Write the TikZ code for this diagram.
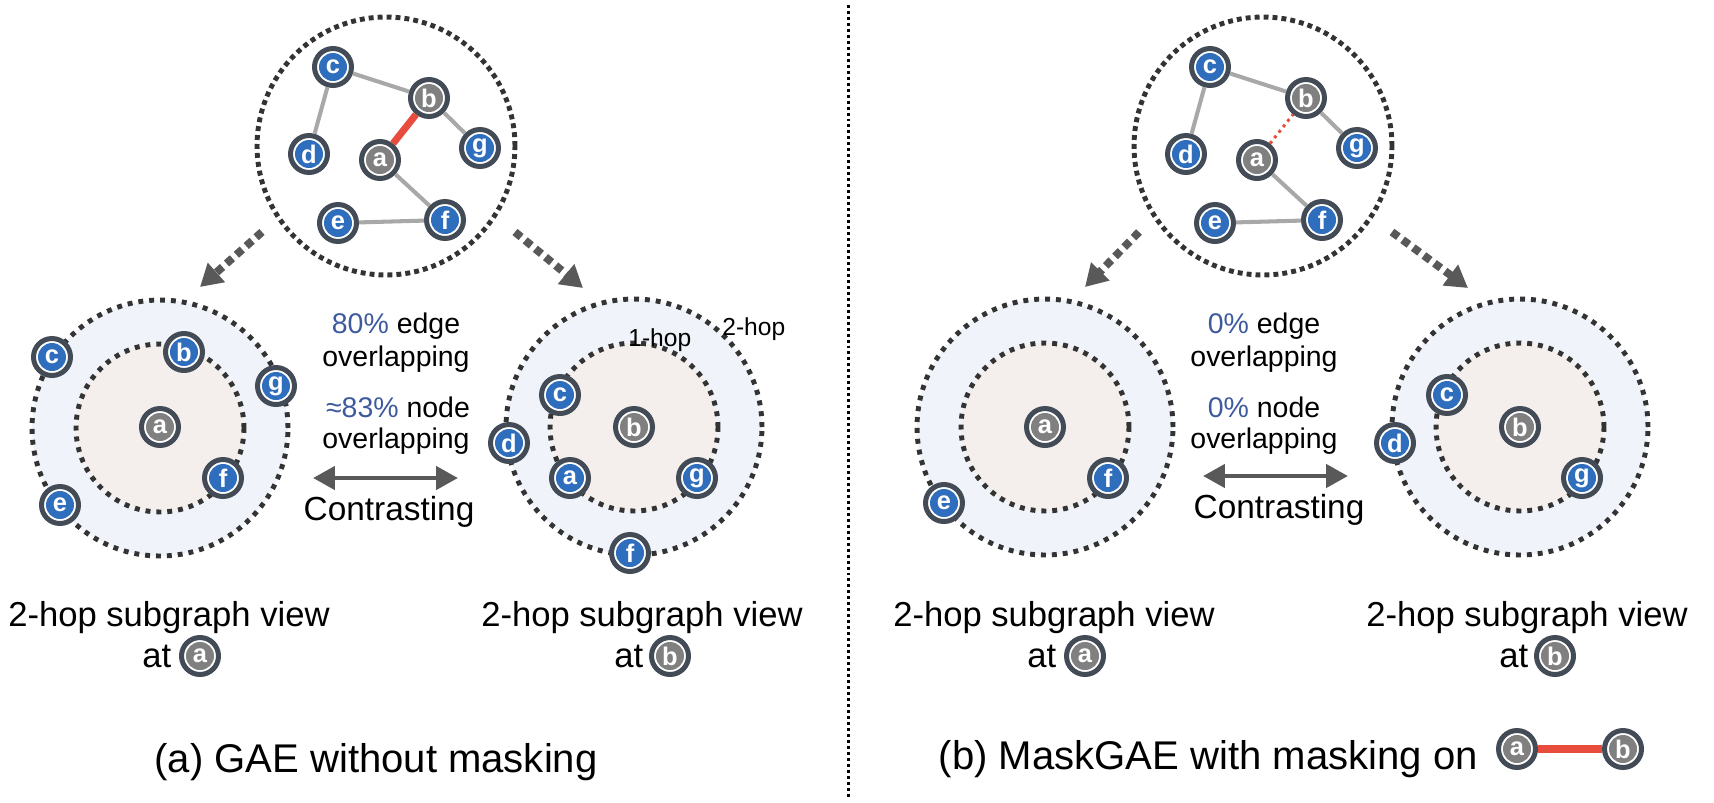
\documentclass[tikz,border=0pt]{standalone}
\definecolor{nodeblue}{RGB}{47,110,189}
\definecolor{nodegray}{RGB}{128,128,128}
\definecolor{ringgray}{RGB}{67,76,86}
\definecolor{edgegray}{RGB}{168,168,168}
\definecolor{maskred}{RGB}{232,76,61}
\definecolor{hopblue}{RGB}{240,244,250}
\definecolor{hopbeige}{RGB}{244,239,236}
\definecolor{dashgray}{RGB}{51,51,51}
\definecolor{arrowgray}{RGB}{89,89,89}
\definecolor{pctblue}{RGB}{61,90,158}
\usepackage{fontspec}
\setmainfont{Liberation Sans}
\usepackage{tikz}
\usetikzlibrary{arrows.meta,positioning}

\begin{document}
\begin{tikzpicture}[x=0.02cm,y=-0.02cm,
    every node/.style={inner sep=0pt},
    gnode/.style={circle,minimum size=0.74cm,outer sep=0.05cm,draw=ringgray,line width=0.1cm,fill=white,
        text=white,font=\fontsize{14.5}{16}\selectfont\bfseries,
        path picture={\fill[#1] (path picture bounding box.center) circle (0.28cm);}},
    bnode/.style={gnode=nodeblue},
    anode/.style={gnode=nodegray},
    topring/.style={circle,minimum size=5.16cm,draw=dashgray,line width=2.8pt,dash pattern=on 2.8pt off 2.3pt},
    hoptwo/.style={circle,minimum size=5.12cm,draw=dashgray,fill=hopblue,line width=2.8pt,dash pattern=on 2.8pt off 3.4pt},
    hopone/.style={circle,minimum size=3.36cm,draw=dashgray,fill=hopbeige,line width=2.8pt,dash pattern=on 2.8pt off 3.4pt},
    edge/.style={draw=edgegray,line width=2.3pt},
    maskedge/.style={draw=maskred,line width=4pt},
    droppededge/.style={draw=maskred,line width=1.7pt,dash pattern=on 1.7pt off 2.3pt},
    viewarrow/.style={draw=arrowgray,line width=4.5pt,dash pattern=on 4.5pt off 3pt,-{Triangle[width=14pt,length=12.5pt]}},
    contrast/.style={draw=arrowgray,line width=2.8pt,{Triangle[width=13pt,length=12.5pt]}-{Triangle[width=13pt,length=12.5pt]}},
    pcttext/.style={font=\fontsize{16.2}{19}\selectfont},
    hoptext/.style={font=\fontsize{14}{16}\selectfont},
    contrasttext/.style={font=\fontsize{19}{22}\selectfont},
    viewtext/.style={font=\fontsize{19.7}{23}\selectfont},
    captext/.style={font=\fontsize{22.8}{27}\selectfont}]
\useasboundingbox (0,0) rectangle (1714,802);

% ---------- (a) GAE without masking ----------
% input graph
\node[topring] (topA) at (386,146) {};
\node[bnode] (Ac) at (333,67) {c};
\node[anode] (Ab) at (429,98) {b};
\node[bnode] (Ad) at (309,154) {d};
\node[anode] (Aa) at (380,160) {a};
\node[bnode] (Ag) at (480,148) {g};
\node[bnode] (Ae) at (338,223) {e};
\node[bnode] (Af) at (445,220) {f};
\draw[edge] (Ac) -- (Ab);
\draw[edge] (Ac) -- (Ad);
\draw[edge] (Ab) -- (Ag);
\draw[edge] (Aa) -- (Af);
\draw[edge] (Ae) -- (Af);
\draw[maskedge] (Aa) -- (Ab);

% subgraph view at a
\node[hoptwo] (outA) at (160,428) {};
\node[hopone] (inA) at (160,428) {};
\node[anode] (vAa) at (160,427) {a};
\node[bnode] (vAc) at (52,357) {c};
\node[bnode] (vAb) at (184,352) {b};
\node[bnode] (vAg) at (276,386) {g};
\node[bnode] (vAf) at (223,478) {f};
\node[bnode] (vAe) at (60,505) {e};

% subgraph view at b
\node[hoptwo] (outB) at (634,427) {};
\node[hopone] (inB) at (634,427) {};
\node[anode] (vBb) at (634,427) {b};
\node[bnode] (vBc) at (560,395) {c};
\node[bnode] (vBd) at (509,443) {d};
\node[bnode] (vBa) at (570,478) {a};
\node[bnode] (vBg) at (697,478) {g};
\node[bnode] (vBf) at (630,553) {f};
\node[hoptext,anchor=base west] (oneB) at (628,346) {1-hop};
\node[hoptext,anchor=base west] (twoB) at (722,335) {2-hop};

% arrows to the views
\coordinate (fromAl) at (262,232);
\coordinate (toAl) at (200,287);
\coordinate (fromAr) at (515,232);
\coordinate (toAr) at (583,288);
\draw[viewarrow] (fromAl) -- (toAl);
\draw[viewarrow] (fromAr) -- (toAr);

% overlap
\node[pcttext,anchor=base] (edgeA) at (396,333) {\textcolor{pctblue}{80\%} edge};
\node[pcttext,anchor=base] (edgeAo) at (396,366) {overlapping};
\node[pcttext,anchor=base] (nodeA) at (398,417) {\textcolor{pctblue}{≈83\%} node};
\node[pcttext,anchor=base] (nodeAo) at (396,448) {overlapping};
\coordinate (conAl) at (313,478);
\coordinate (conAr) at (458,478);
\draw[contrast] (conAl) -- (conAr);
\node[contrasttext,anchor=base] (conA) at (389,520) {Contrasting};

% labels
\node[viewtext,anchor=base] (labA) at (169,626) {2-hop subgraph view};
\node[viewtext,anchor=base west] (atA) at (142,667) {at};
\node[anode] (atAa) at (200,656) {a};
\node[viewtext,anchor=base] (labB) at (642,626) {2-hop subgraph view};
\node[viewtext,anchor=base west] (atB) at (614,667) {at};
\node[anode] (atBb) at (670,656) {b};
\node[captext,anchor=base] (capA) at (376,772) {(a) GAE without masking};

% divider
\draw[line width=1.7pt,dash pattern=on 1.7pt off 1.7pt] (848,5) -- (848,797);

% ---------- (b) MaskGAE with masking ----------
% input graph
\node[topring] (topM) at (1263,146) {};
\node[bnode] (Mc) at (1210,67) {c};
\node[anode] (Mb) at (1306,98) {b};
\node[bnode] (Md) at (1186,154) {d};
\node[anode] (Ma) at (1257,160) {a};
\node[bnode] (Mg) at (1357,148) {g};
\node[bnode] (Me) at (1215,223) {e};
\node[bnode] (Mf) at (1322,220) {f};
\draw[edge] (Mc) -- (Mb);
\draw[edge] (Mc) -- (Md);
\draw[edge] (Mb) -- (Mg);
\draw[edge] (Ma) -- (Mf);
\draw[edge] (Me) -- (Mf);
\draw[droppededge] (Ma) -- (Mb);

% subgraph view at a
\node[hoptwo] (outC) at (1045,427) {};
\node[hopone] (inC) at (1045,427) {};
\node[anode] (vCa) at (1045,427) {a};
\node[bnode] (vCf) at (1108,478) {f};
\node[bnode] (vCe) at (944,503) {e};

% subgraph view at b
\node[hoptwo] (outD) at (1520,427) {};
\node[hopone] (inD) at (1520,427) {};
\node[anode] (vDb) at (1520,427) {b};
\node[bnode] (vDc) at (1447,395) {c};
\node[bnode] (vDd) at (1395,443) {d};
\node[bnode] (vDg) at (1582,478) {g};

% arrows to the views
\coordinate (fromMl) at (1139,232);
\coordinate (toMl) at (1085,287);
\coordinate (fromMr) at (1392,232);
\coordinate (toMr) at (1468,288);
\draw[viewarrow] (fromMl) -- (toMl);
\draw[viewarrow] (fromMr) -- (toMr);

% overlap
\node[pcttext,anchor=base] (edgeM) at (1264,333) {\textcolor{pctblue}{0\%} edge};
\node[pcttext,anchor=base] (edgeMo) at (1264,366) {overlapping};
\node[pcttext,anchor=base] (nodeM) at (1264,417) {\textcolor{pctblue}{0\%} node};
\node[pcttext,anchor=base] (nodeMo) at (1264,448) {overlapping};
\coordinate (conMl) at (1203,476);
\coordinate (conMr) at (1348,476);
\draw[contrast] (conMl) -- (conMr);
\node[contrasttext,anchor=base] (conM) at (1279,518) {Contrasting};

% labels
\node[viewtext,anchor=base] (labC) at (1054,626) {2-hop subgraph view};
\node[viewtext,anchor=base west] (atC) at (1027,667) {at};
\node[anode] (atCa) at (1085,656) {a};
\node[viewtext,anchor=base] (labD) at (1527,626) {2-hop subgraph view};
\node[viewtext,anchor=base west] (atD) at (1499,667) {at};
\node[anode] (atDb) at (1555,656) {b};
\node[captext,anchor=base east] (capM) at (1478,769) {(b) MaskGAE with masking on};
\node[anode] (legA) at (1517,749) {a};
\node[anode] (legB) at (1623,749) {b};
\draw[maskedge,line width=4.5pt] (legA) -- (legB);
\end{tikzpicture}
\end{document}
